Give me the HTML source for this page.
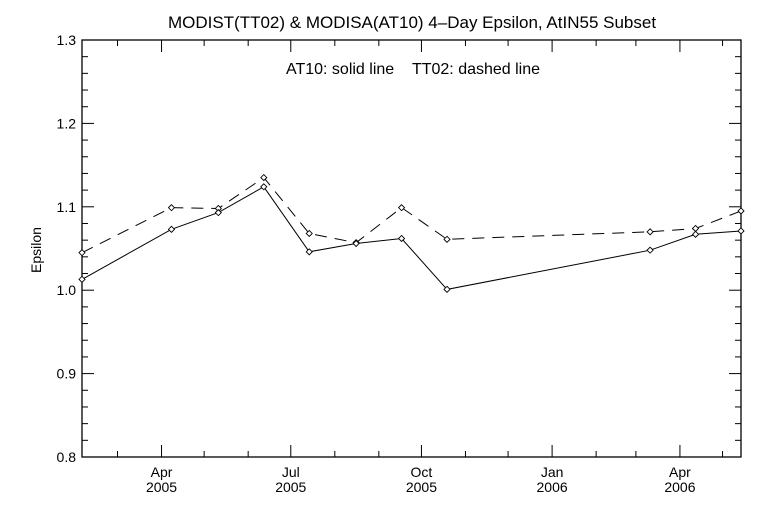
<!DOCTYPE html>
<html><head><meta charset="utf-8"><style>
html,body{margin:0;padding:0;background:#fff;}
svg{display:block;font-family:"Liberation Sans",sans-serif;}
</style></head><body>
<svg id="chart" width="768" height="512" viewBox="0 0 768 512" xmlns="http://www.w3.org/2000/svg">
<rect x="0" y="0" width="768" height="512" fill="#fff"/>
<text x="412" y="28" font-size="17" text-anchor="middle" fill="#000">MODIST(TT02) &amp; MODISA(AT10) 4–Day Epsilon, AtIN55 Subset</text>
<text x="413" y="74" font-size="16" text-anchor="middle" fill="#000">AT10: solid line&#160;&#160;&#160;&#160;TT02: dashed line</text>
<text x="0" y="0" font-size="14" text-anchor="middle" fill="#000" transform="translate(41,250) rotate(-90)">Epsilon</text>
<g id="axes"></g>
<g id="series"></g>
</svg>
<script>
const days = [34, 97, 130, 162, 194, 227, 259, 291, 434, 466, 498];
const at10 = [1.013, 1.073, 1.093, 1.124, 1.046, 1.056, 1.062, 1.001, 1.048, 1.067, 1.071];
const tt02 = [1.045, 1.099, 1.098, 1.135, 1.068, 1.057, 1.099, 1.061, 1.070, 1.074, 1.095];
const yTicks = [0.8, 0.9, 1.0, 1.1, 1.2, 1.3];
const yTickLabels = ["0.8", "0.9", "1.0", "1.1", "1.2", "1.3"];
const xTickDays = [90, 181, 273, 365, 455];
const xTickMonths = ["Apr", "Jul", "Oct", "Jan", "Apr"];
const xTickYears = ["2005", "2005", "2005", "2006", "2006"];
const xMinorDays = [59, 120, 151, 212, 243, 304, 334, 396, 424, 485];

const L = 82, R = 741, T = 40, B = 457;
const dMin = 34, dMax = 498, vMin = 0.8, vMax = 1.3;
const xs = d => L + (d - dMin) / (dMax - dMin) * (R - L);
const ys = v => B - (v - vMin) / (vMax - vMin) * (B - T);
const NS = "http://www.w3.org/2000/svg";
const axes = document.getElementById("axes");
const series = document.getElementById("series");
function mk(tag, attrs, parent) {
  const e = document.createElementNS(NS, tag);
  for (const k in attrs) e.setAttribute(k, attrs[k]);
  parent.appendChild(e);
  return e;
}
const frame = mk("rect", {x: L, y: T, width: R - L, height: B - T, fill: "none", stroke: "#000", "stroke-width": 1.3}, axes);



yTicks.forEach((v, i) => {
  const y = ys(v);
  const t1 = mk("line", {x1: L, x2: L + 12, y1: y, y2: y, stroke: "#000"}, axes);
  
  
  const t2 = mk("line", {x1: R, x2: R - 12, y1: y, y2: y, stroke: "#000"}, axes);
  
  
  const lab = mk("text", {x: L - 6, y: y + 5, "font-size": 14, "text-anchor": "end"}, axes);
  lab.textContent = yTickLabels[i];
  
  
  if (i < yTicks.length - 1) {
    for (let k = 1; k < 5; k++) {
      const ym = ys(v + (yTicks[i + 1] - v) * k / 5);
      const m1 = mk("line", {x1: L, x2: L + 6, y1: ym, y2: ym, stroke: "#000"}, axes);
      
      
      const m2 = mk("line", {x1: R, x2: R - 6, y1: ym, y2: ym, stroke: "#000"}, axes);
      
      
    }
  }
});
xTickDays.forEach((d, i) => {
  const x = xs(d);
  const t1 = mk("line", {x1: x, x2: x, y1: B, y2: B - 12, stroke: "#000"}, axes);
  
  
  const t2 = mk("line", {x1: x, x2: x, y1: T, y2: T + 12, stroke: "#000"}, axes);
  
  
  const m = mk("text", {x: x, y: B + 20, "font-size": 14, "text-anchor": "middle"}, axes);
  m.textContent = xTickMonths[i];
  
  
  const yr = mk("text", {x: x, y: B + 35, "font-size": 14, "text-anchor": "middle"}, axes);
  yr.textContent = xTickYears[i];
  
  
});
xMinorDays.forEach(d => {
  const x = xs(d);
  const t1 = mk("line", {x1: x, x2: x, y1: B, y2: B - 6, stroke: "#000"}, axes);
  
  
  const t2 = mk("line", {x1: x, x2: x, y1: T, y2: T + 6, stroke: "#000"}, axes);
  
  
});

function drawSeries(vals, name, dash) {
  const pts = days.map((d, i) => xs(d).toFixed(1) + "," + ys(vals[i]).toFixed(1)).join(" ");
  const pl = mk("polyline", {points: pts, fill: "none", stroke: "#000", "stroke-width": 1, "stroke-dasharray": dash}, series);
  
  
  days.forEach((d, i) => {
    const x = xs(d), y = ys(vals[i]);
    const mkr = mk("polygon", {points: `${x},${y-3} ${x+3},${y} ${x},${y+3} ${x-3},${y}`, fill: "#fff", stroke: "#000", "stroke-width": 0.9}, series);
    
    
  });
}
drawSeries(tt02, "tt02", "12,8");
drawSeries(at10, "at10", "none");
</script>
</body></html>
